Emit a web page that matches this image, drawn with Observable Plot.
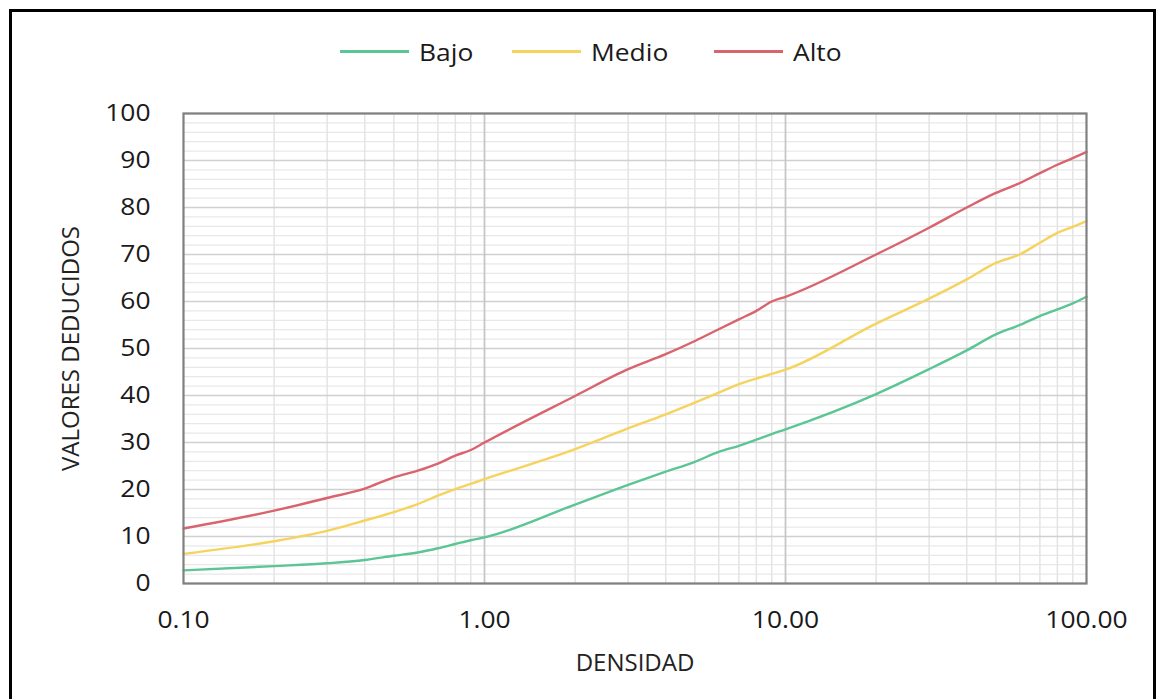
<!DOCTYPE html>
<html><head><meta charset="utf-8">
<script src="https://cdn.jsdelivr.net/npm/d3@7"></script>
<script src="https://cdn.jsdelivr.net/npm/@observablehq/plot@0.6"></script>
<style>
body{margin:0;background:#fff;width:1159px;height:699px;overflow:hidden;position:relative;font-family:"Open Sans",sans-serif;}
#frame{position:absolute;left:9px;top:9px;width:1141px;height:720px;border:3px solid #000;border-bottom:none;}
#legend{position:absolute;top:33px;left:0;width:1159px;height:36px;}
.item{position:absolute;display:flex;align-items:center;top:0;height:36px;font-size:24px;font-weight:500;color:#1a1a1a;}
.item span.t{display:inline-block;transform:scaleX(1.1);transform-origin:left center;}
.sw{display:inline-block;width:69px;height:3px;margin-right:10px;}
#chart{position:absolute;left:0;top:90px;}
</style>
</head><body>
<div id="frame"></div>
<div id="legend"></div>
<div id="chart"></div>
<script>
// Data
const densidad = [0.1,0.2,0.3,0.4,0.5,0.6,0.7,0.8,0.9,1,2,3,4,5,6,7,8,9,10,20,30,40,50,60,70,80,90,100];
const bajo  = [2.8,3.7,4.3,5.0,5.9,6.6,7.5,8.4,9.2,9.8, 16.8,21.0,23.8,25.9,28.0,29.3,30.6,31.8,32.8, 40.3,45.6,49.6,53.0,55.0,56.9,58.3,59.6,61.0];
const medio = [6.3,9.0,11.2,13.4,15.2,16.9,18.7,20.1,21.2,22.2, 28.6,33.0,36.0,38.5,40.6,42.4,43.6,44.6,45.5, 55.3,60.6,64.7,68.2,70.0,72.5,74.6,75.9,77.1];
const alto  = [11.7,15.5,18.2,20.2,22.6,24.0,25.5,27.2,28.4,30.0, 39.9,45.6,48.8,51.6,54.1,56.2,58.0,60.0,61.0, 70.0,75.7,80.0,83.1,85.2,87.3,89.1,90.5,91.8];
const seriesNames = ["Bajo","Medio","Alto"];
const seriesColors = ["#5cc594","#f5d35c","#d9646d"];
const xTicks = [0.1,1,10,100];
const yTicks = [0,10,20,30,40,50,60,70,80,90,100];
const xLabel = "DENSIDAD";
const yLabel = "VALORES DEDUCIDOS";

const seriesValues = [bajo, medio, alto];
const table = [];
seriesNames.forEach((s,i) => densidad.forEach((x,j) => table.push({s, x, v: seriesValues[i][j]})));

const yMinor = d3.range(0, 101, 2).filter(v => v % 10 !== 0);
const xMinor = [];
[0.1,1,10].forEach(d => { for (let k = 2; k <= 9; k++) xMinor.push(+(d*k).toPrecision(3)); });

// legend
const legend = document.getElementById("legend");
const legendLeft = [340, 512, 714];
seriesNames.forEach((s,i) => {
  const it = document.createElement("div");
  it.className = "item";
  it.style.left = legendLeft[i] + "px";
  it.innerHTML = `<span class="sw" style="background:${seriesColors[i]}"></span><span class="t">${s}</span>`;
  legend.appendChild(it);
});

const plot = Plot.plot({
  width: 1159, height: 609,
  marginLeft: 183, marginRight: 73, marginTop: 23, marginBottom: 116,
  style: {fontFamily: "'Open Sans', sans-serif", fontSize: "24px", color: "#1a1a1a", background: "transparent", overflow: "visible"},
  x: {type: "log", domain: [0.1, 100], ticks: xTicks, tickFormat: d => d.toFixed(2), tickSize: 0, tickPadding: 27,
      label: xLabel, labelAnchor: "center", labelOffset: 87, labelArrow: false},
  y: {domain: [0, 100], ticks: yTicks, tickSize: 0, tickPadding: 33,
      label: yLabel, labelAnchor: "center", labelOffset: 122, labelArrow: false},
  color: {domain: seriesNames, range: seriesColors},
  marks: [
    Plot.ruleY(yMinor, {stroke: "#e8e8e8", strokeWidth: 1.2}),
    Plot.ruleX(xMinor, {stroke: "#e4e4e4", strokeWidth: 1.5}),
    Plot.ruleY(yTicks, {stroke: "#d0d0d0", strokeWidth: 1.6}),
    Plot.ruleX([1, 10], {stroke: "#c6c6c6", strokeWidth: 1.8}),
    Plot.line(table, {x: "x", y: "v", z: "s", stroke: "s", strokeWidth: 2.4, curve: "monotone-x"}),
    Plot.frame({stroke: "#808080", strokeWidth: 2.2})
  ]
});
document.getElementById("chart").appendChild(plot);
plot.querySelectorAll('g[aria-label$="tick label"] text').forEach(t => {
  const tr = t.getAttribute("transform") || "";
  t.setAttribute("transform", tr + " scale(1.1,1)");
  t.setAttribute("font-weight", "500");
});
plot.querySelectorAll('g[aria-label$="label"] text').forEach(t => {
  if (t.textContent === xLabel || t.textContent === yLabel) t.setAttribute("fill", "#222");
});
</script>
</body></html>
